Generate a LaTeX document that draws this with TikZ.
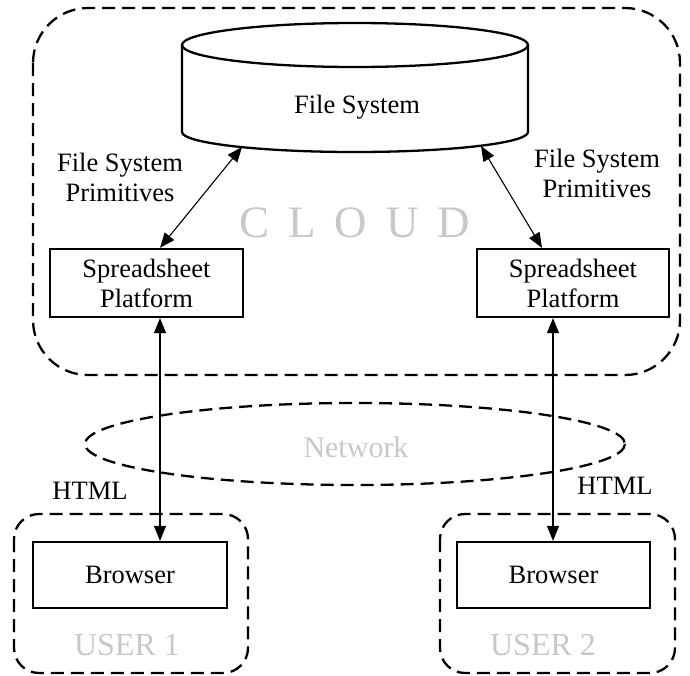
\documentclass[tikz,border=0pt]{standalone}
\usepackage{fontspec}
\setmainfont{Liberation Serif}
\usetikzlibrary{arrows.meta}
\definecolor{ghost}{RGB}{200,200,200}
\begin{document}
\begin{tikzpicture}[x=1pt, y=-1pt,
  txt/.style={font=\fontsize{26.5}{30}\selectfont, inner sep=0pt, align=center},
  boxed/.style={txt, draw, line width=2.3pt},
  ghostlbl/.style={text=ghost, inner sep=0pt, anchor=base},
  frame/.style={draw, line width=2.3pt, dash pattern=on 13pt off 7pt},
  link/.style={line width=1.1pt, {Triangle[length=15pt, width=12pt]}-{Triangle[length=15pt, width=12pt]}}
]
\useasboundingbox (0,0) rectangle (690,675);

% cloud boundary
\draw[frame, rounded corners=55pt] (33,8) rectangle (680,375);
% user boundaries
\draw[frame, rounded corners=25pt] (14,514) rectangle (248,673);
\draw[frame, rounded corners=25pt] (440,514) rectangle (675,673);
% network
\draw[frame] (355,444) ellipse [x radius=270, y radius=41];

% background labels
\node[ghostlbl, font=\fontsize{45}{45}\selectfont] (cloud) at (355,237)
  {C\hspace{19pt}L\hspace{19pt}O\hspace{19pt}U\hspace{19pt}D};
\node[ghostlbl, font=\fontsize{30}{30}\selectfont] (net) at (356,457) {Network};
\node[ghostlbl, font=\fontsize{32}{32}\selectfont] (u1) at (127,655) {USER 1};
\node[ghostlbl, font=\fontsize{32}{32}\selectfont] (u2) at (543,655) {USER 2};

% file system drum
\draw[line width=2.3pt, fill=white] (182,45) -- (182,132)
  arc[start angle=180, end angle=0, x radius=173, y radius=20] -- (528,45);
\draw[line width=2.3pt] (355,45) ellipse [x radius=173, y radius=22];
\node[txt, anchor=base] (fs) at (357,113) {File System};
\coordinate (fsL) at (242,147);
\coordinate (fsR) at (481,146);

% platforms and browsers
\node[boxed, minimum width=193pt, minimum height=68pt] (sp1) at (146.5,283) {Spreadsheet\\Platform};
\node[boxed, minimum width=192pt, minimum height=68pt] (sp2) at (573,283) {Spreadsheet\\Platform};
\node[boxed, minimum width=194pt, minimum height=66pt] (br1) at (130,575) {Browser};
\node[boxed, minimum width=193pt, minimum height=66pt] (br2) at (553.5,575) {Browser};

% connectors
\draw[link] ([xshift=13.5pt]sp1.north) -- (fsL);
\draw[link] (fsR) -- ([xshift=-31pt]sp2.north);
\coordinate (v1) at ([xshift=13.5pt]sp1.south);
\coordinate (v2) at ([xshift=-20pt]sp2.south);
\draw[link] (v1) -- (v1 |- br1.north);
\draw[link] (v2) -- (v2 |- br2.north);

% connector labels
\node[txt, anchor=north] (fsp1) at (120,153) {File System\\Primitives};
\node[txt, anchor=north] (fsp2) at (597,149) {File System\\Primitives};
\node[txt, anchor=base] (h1) at (90,499) {HTML};
\node[txt, anchor=base] (h2) at (615,494) {HTML};
\end{tikzpicture}
\end{document}
